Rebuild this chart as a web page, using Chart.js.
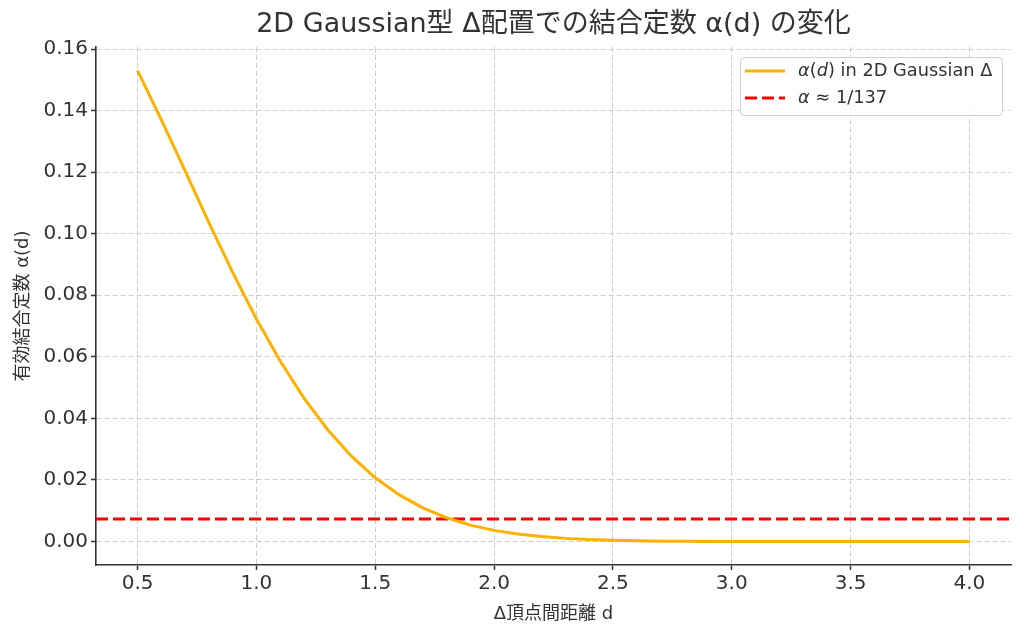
<!DOCTYPE html>
<html><head><meta charset="utf-8">
<script src="https://cdn.jsdelivr.net/npm/chart.js@4"></script>
<style>html,body{margin:0;padding:0;background:#fff}</style>
</head><body>
<canvas id="c" width="1024" height="635"></canvas>
<script>
const dValues = [0.5,0.6,0.7,0.8,0.9,1.0,1.1,1.2,1.3,1.4,1.5,1.6,1.7,1.8,1.9,2.0,2.1,2.2,2.3,2.4,2.5,2.6,2.7,2.8,2.9,3.0,3.1,3.2,3.3,3.4,3.5,3.6,3.7,3.8,3.9,4.0];
const alphaValues = [0.1530,0.1370,0.1204,0.1036,0.0874,0.0723,0.0586,0.0466,0.0363,0.0277,0.0207,0.0152,0.0109,0.0077,0.0053,0.0036,0.0024,0.0016,0.0010,0.0006,0.0004,0.0002,0.0001,0.0001,0.0000,0.0000,0.0000,0.0000,0.0000,0.0000,0.0000,0.0000,0.0000,0.0000,0.0000,0.0000];
const alphaRef = 0.0073;
const xTicks = [0.5,1.0,1.5,2.0,2.5,3.0,3.5,4.0];
const yTicks = [0.00,0.02,0.04,0.06,0.08,0.10,0.12,0.14,0.16];
const xLimits = [0.325, 4.175];
const yLimits = [-0.00765, 0.16065];
const titleText = '2D Gaussian型 Δ配置での結合定数 α(d) の変化';
const xTitle = 'Δ頂点間距離 d';
const yTitle = '有効結合定数 α(d)';
const legendRows = [
  {parts:[['α',true],['(',false],['d',true],[') in 2D Gaussian Δ',false]]},
  {parts:[['α',true],[' ≈ 1/137',false]]}
];

const FONT = "'DejaVu Sans', 'Noto Sans CJK JP', sans-serif";
const TXT = '#333333';
const ORANGE = '#FFB000';
const RED = '#FF0000';

const titlePlugin = {
  id: 'mplTitle',
  afterDraw(chart) {
    const {ctx, chartArea} = chart;
    ctx.save();
    ctx.font = '27px ' + FONT;
    ctx.fillStyle = TXT;
    ctx.textAlign = 'center';
    ctx.textBaseline = 'alphabetic';
    ctx.fillText(titleText, (chartArea.left + chartArea.right) / 2, 32);
    ctx.restore();
  }
};

const legendPlugin = {
  id: 'mplLegend',
  afterDraw(chart) {
    const {ctx, chartArea} = chart;
    const bx = chartArea.right - 271, by = chartArea.top + 10, bw = 262, bh = 58;
    ctx.save();
    ctx.beginPath();
    ctx.roundRect(bx + 0.5, by + 0.5, bw, bh, 4);
    ctx.fillStyle = 'rgba(255,255,255,0.85)';
    ctx.fill();
    ctx.strokeStyle = '#d0d0d0';
    ctx.lineWidth = 1;
    ctx.stroke();
    const ds = chart.data.datasets;
    const rowsY = [by + 14, by + 41];
    legendRows.forEach((row, i) => {
      const y = rowsY[i];
      const d = ds[i];
      ctx.beginPath();
      ctx.strokeStyle = d.borderColor;
      ctx.lineWidth = d.borderWidth;
      ctx.setLineDash(d.borderDash || []);
      ctx.moveTo(bx + 5, y);
      ctx.lineTo(bx + 45, y);
      ctx.stroke();
      ctx.setLineDash([]);
      let x = bx + 58;
      ctx.fillStyle = TXT;
      ctx.textBaseline = 'middle';
      ctx.textAlign = 'left';
      row.parts.forEach(([t, it]) => {
        ctx.font = (it ? 'italic ' : '') + '17.8px ' + FONT;
        ctx.fillText(t, x, y);
        x += ctx.measureText(t).width;
      });
    });
    ctx.restore();
  }
};

const curve = dValues.map((d, i) => ({x: d, y: alphaValues[i]}));
const refLine = xLimits.map(x => ({x: x, y: alphaRef}));

const gridCommon = {
  color: '#cccccc', lineWidth: 1, tickLength: 5, tickColor: '#333333', tickWidth: 1.5, tickBorderDash: []
};
const borderCommon = {display: true, color: '#333333', width: 1.6, dash: [5, 3]};

new Chart(document.getElementById('c'), {
  type: 'line',
  data: {
    datasets: [
      {data: curve, borderColor: ORANGE, borderWidth: 3, pointRadius: 0, tension: 0, fill: false},
      {data: refLine, borderColor: RED, borderWidth: 3, borderDash: [12, 5], pointRadius: 0, tension: 0, fill: false}
    ]
  },
  options: {
    responsive: false,
    animation: false,
    devicePixelRatio: 1,
    layout: {padding: {top: 47, right: 13, bottom: 0, left: 0}},
    plugins: {legend: {display: false}, title: {display: false}, tooltip: {enabled: false}},
    scales: {
      x: {
        type: 'linear', min: xLimits[0], max: xLimits[1],
        afterBuildTicks: s => { s.ticks = xTicks.map(v => ({value: v})); },
        afterFit: s => { s.height = 70; },
        ticks: {callback: v => v.toFixed(1), color: TXT, font: {family: FONT, size: 20}, padding: 2, maxRotation: 0, autoSkip: false},
        grid: gridCommon,
        border: borderCommon,
        title: {display: true, text: xTitle, color: TXT, font: {family: FONT, size: 18}, padding: {top: 0, bottom: 10}}
      },
      y: {
        type: 'linear', min: yLimits[0], max: yLimits[1],
        afterBuildTicks: s => { s.ticks = yTicks.map(v => ({value: v})); },
        afterFit: s => { s.width = 96; },
        ticks: {callback: v => v.toFixed(2), color: TXT, font: {family: FONT, size: 20}, padding: 3, autoSkip: false},
        grid: gridCommon,
        border: borderCommon,
        title: {display: true, text: yTitle, color: TXT, font: {family: FONT, size: 18}, padding: {top: 13, bottom: 0}}
      }
    }
  },
  plugins: [titlePlugin, legendPlugin]
});
</script>
</body></html>
